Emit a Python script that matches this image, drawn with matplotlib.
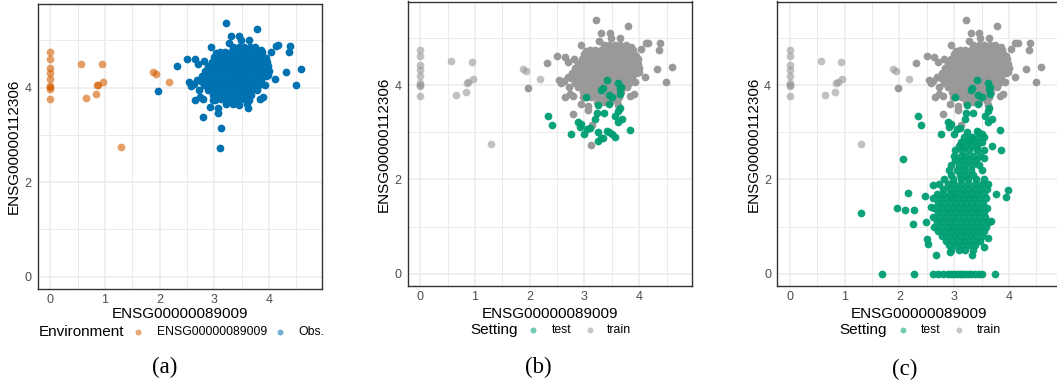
import numpy as np
import matplotlib
matplotlib.use("Agg")
import matplotlib.pyplot as plt
from matplotlib.lines import Line2D
from matplotlib.ticker import MultipleLocator

matplotlib.rcParams.update({'font.family': 'Liberation Sans'})

# ----- data (x = ENSG00000089009, y = ENSG00000112306) -----
# environment "ENSG00000089009" (intervened) points
env_x = [0, 0, 0, 0, 0, 0, 0, 0, 0, 0.56, 0.94, 0.65, 0.83, 0.85, 0.87, 0.96, 1.29, 1.88, 1.93, 2.18]
env_y = [4.75, 4.61, 4.42, 4.32, 4.19, 4.04, 4.01, 3.97, 3.76, 4.51, 4.49, 3.79, 3.86, 4.05, 4.06, 4.12, 2.75, 4.33, 4.29, 4.12]

# observational points: dense core, one list of x per y level
obs_core = [
    (4.85, [3.35, 3.45, 3.55, 3.65, 3.75]),
    (4.75, [3.1, 3.2, 3.3, 3.4, 3.5, 3.6, 3.7, 3.8, 3.88]),
    (4.65, [3.0, 3.1, 3.2, 3.3, 3.4, 3.5, 3.6, 3.7, 3.8, 3.9]),
    (4.55, [2.95, 3.05, 3.15, 3.25, 3.35, 3.45, 3.55, 3.65, 3.75, 3.85, 3.97]),
    (4.45, [2.88, 2.98, 3.08, 3.18, 3.28, 3.38, 3.48, 3.58, 3.68, 3.78, 3.88, 3.98]),
    (4.35, [2.83, 2.93, 3.03, 3.13, 3.23, 3.33, 3.43, 3.53, 3.63, 3.73, 3.83, 3.93, 4.0]),
    (4.25, [2.78, 2.88, 2.98, 3.08, 3.18, 3.28, 3.38, 3.48, 3.58, 3.68, 3.78, 3.88, 3.95]),
    (4.15, [2.76, 2.86, 2.96, 3.06, 3.16, 3.26, 3.36, 3.46, 3.56, 3.66, 3.76, 3.86]),
    (4.05, [2.82, 2.92, 3.02, 3.12, 3.22, 3.32, 3.42, 3.52, 3.62, 3.72, 3.82]),
    (3.95, [2.88, 2.98, 3.08, 3.18, 3.28, 3.38, 3.48, 3.58, 3.68, 3.78]),
    (3.85, [2.97, 3.07, 3.17, 3.27, 3.37, 3.47, 3.57, 3.67]),
    (3.75, [3.12, 3.25, 3.38, 3.5, 3.6]),
]
# observational points around the core
obs_x = [1.97, 2.31, 2.50, 2.64, 2.70, 2.81, 2.54, 2.58, 2.65, 2.73, 2.79, 2.93, 3.07, 3.07, 3.13, 3.11,
         3.21, 3.31, 3.46, 3.48, 3.64, 3.79, 3.27, 2.94, 3.03, 4.03, 4.12, 4.16, 4.38, 4.36, 4.32, 4.59,
         4.49, 4.11, 3.90, 3.84, 3.60, 3.61, 3.46, 3.35, 3.22, 3.02, 2.79, 2.98, 3.37, 3.63, 3.93, 3.99,
         2.69, 2.72, 2.62, 3.85, 3.95]
obs_y = [3.93, 4.46, 4.61, 4.60, 4.49, 4.56, 4.11, 4.04, 3.74, 3.81, 3.38, 3.60, 3.47, 3.56, 3.15, 2.73,
         5.37, 5.10, 5.10, 5.00, 5.00, 5.25, 4.94, 4.85, 4.73, 4.76, 4.89, 4.90, 4.89, 4.75, 4.34, 4.39,
         4.06, 4.18, 3.81, 3.76, 3.66, 3.58, 3.63, 3.65, 3.65, 3.74, 3.76, 3.74, 3.71, 3.74, 4.06, 4.27,
         4.17, 3.95, 4.08, 4.80, 4.62]

# test points of setting (b)
test_b_x = [3.42, 3.61, 3.64, 3.66, 3.65, 3.30, 3.33, 3.44, 3.50, 3.02, 3.44, 3.24, 3.64, 3.61, 3.35,
            3.22, 3.20, 3.56, 3.69, 3.61, 2.34, 2.40, 2.89, 2.94, 2.91, 3.05, 3.10, 2.76, 3.00, 3.24,
            3.41, 3.44, 3.50, 3.55, 3.25, 3.30, 3.33, 3.83]
test_b_y = [4.10, 4.05, 3.91, 3.95, 3.81, 3.90, 3.93, 3.78, 3.74, 3.74, 3.60, 3.58, 3.52, 3.44, 3.40,
            3.40, 3.29, 3.34, 3.29, 3.21, 3.34, 3.15, 3.22, 3.17, 3.10, 3.07, 3.08, 2.97, 2.96, 3.00,
            3.03, 3.01, 2.96, 2.89, 2.81, 2.87, 2.88, 3.04]

# extra test points of setting (c): dense column, one list of x per y level
test_c_rows = [
    (2.90, [3.18, 3.32, 3.45]),
    (2.80, [3.12, 3.25, 3.38, 3.5]),
    (2.70, [3.08, 3.2, 3.32, 3.42, 3.69]),
    (2.62, [3.02, 3.15, 3.28, 3.42, 3.54, 3.86]),
    (2.50, [3.0, 3.12, 3.22, 3.35, 3.48]),
    (2.40, [3.02, 3.15, 3.28, 3.4]),
    (2.30, [2.95, 3.08, 3.2, 3.32, 3.45]),
    (2.20, [2.9, 3.05, 3.18, 3.3, 3.5]),
    (2.10, [2.95, 3.1, 3.22, 3.35]),
    (2.00, [2.82, 2.98, 3.12, 3.25, 3.4, 3.55]),
    (1.90, [2.72, 2.88, 3.0, 3.12, 3.25, 3.38, 3.5, 3.62]),
    (1.80, [2.8, 2.92, 3.04, 3.15, 3.26, 3.36, 3.48, 3.6]),
    (1.70, [2.68, 2.8, 2.92, 3.02, 3.12, 3.22, 3.32, 3.42, 3.54]),
    (1.60, [2.62, 2.75, 2.86, 2.96, 3.06, 3.16, 3.26, 3.36, 3.46, 3.58]),
    (1.50, [2.7, 2.82, 2.92, 3.02, 3.12, 3.22, 3.32, 3.42, 3.52]),
    (1.40, [2.64, 2.76, 2.88, 2.98, 3.08, 3.18, 3.28, 3.38, 3.48, 3.6]),
    (1.30, [2.7, 2.82, 2.92, 3.02, 3.12, 3.22, 3.32, 3.42, 3.54]),
    (1.20, [2.62, 2.74, 2.86, 2.96, 3.06, 3.16, 3.26, 3.36, 3.46, 3.56]),
    (1.10, [2.68, 2.8, 2.92, 3.02, 3.12, 3.22, 3.32, 3.42, 3.52, 3.64]),
    (1.00, [2.64, 2.76, 2.88, 2.98, 3.08, 3.18, 3.28, 3.38, 3.48, 3.58]),
    (0.90, [2.7, 2.84, 2.94, 3.04, 3.14, 3.24, 3.34, 3.44, 3.54]),
    (0.80, [2.78, 2.9, 3.0, 3.1, 3.2, 3.3, 3.4, 3.5]),
    (0.70, [2.86, 2.98, 3.08, 3.18, 3.28, 3.38, 3.48]),
    (0.60, [2.9, 3.02, 3.14, 3.26, 3.38]),
    (0.50, [2.95, 3.08, 3.2, 3.34]),
    (0.00, [1.68, 2.27, 2.62, 2.7, 2.8, 2.88, 2.95, 3.0, 3.05, 3.1, 3.15, 3.2, 3.25, 3.3,
            3.38, 3.45, 3.5, 3.74]),
]
test_c_x = [2.07, 1.29, 2.16, 1.95, 2.11, 2.27, 2.24, 2.62, 2.47, 2.49, 2.50, 2.52, 2.66, 2.92,
            3.32, 3.54, 3.62, 3.76, 3.99, 3.94, 3.55, 2.58, 3.68]
test_c_y = [2.43, 1.29, 1.72, 1.39, 1.36, 1.36, 1.06, 1.89, 1.65, 1.10, 0.74, 0.64, 0.39, 0.46,
            0.39, 0.56, 0.76, 1.70, 1.77, 1.63, 2.45, 1.42, 1.12]


def flatten(rows, xs, ys):
    px = [x for y, row in rows for x in row] + list(xs)
    py = [y for y, row in rows for x in row] + list(ys)
    return np.array(px), np.array(py)


obs_all_x, obs_all_y = flatten(obs_core, obs_x, obs_y)
tc_x, tc_y = flatten(test_c_rows, test_c_x, test_c_y)
tc_x = np.concatenate([test_b_x, tc_x])
tc_y = np.concatenate([test_b_y, tc_y])

# ----- figure -----
W, H = 1057, 381
fig = plt.figure(figsize=(W / 100, H / 100), dpi=100)


def box(l, t, r, b):
    return [l / W, 1 - b / H, (r - l) / W, (b - t) / H]


def fx(x):
    return x / W


def fy(y):
    return 1 - y / H


c_orange, c_blue, c_green, c_grey = '#D55E00', '#0072B2', '#009E73', '#999999'
tick_c, fs_tick, fs_title, fs_leg = '#4D4D4D', 9.0, 11.0, 8.8
msize = 31

axes = [fig.add_axes(box(37.7, 4, 322, 289)),
        fig.add_axes(box(407.7, 1.5, 692.3, 286)),
        fig.add_axes(box(777.3, 1.5, 1062, 286))]

for ax in axes:
    ax.set_xlim(-0.23, 4.97)
    ax.set_ylim(-0.26, 5.77)
    ax.xaxis.set_major_locator(MultipleLocator(1))
    ax.xaxis.set_minor_locator(MultipleLocator(0.5))
    ax.yaxis.set_major_locator(MultipleLocator(2))
    ax.yaxis.set_minor_locator(MultipleLocator(1))
    ax.grid(which='major', color='#EBEBEB', lw=1.1)
    ax.grid(which='minor', color='#EBEBEB', lw=0.7)
    ax.set_axisbelow(True)
    ax.tick_params(which='both', length=0, labelsize=fs_tick, labelcolor=tick_c)
    ax.tick_params(axis='x', pad=3.5)
    ax.tick_params(axis='y', pad=4.5)
    for s in ax.spines.values():
        s.set_color('#333333')
        s.set_linewidth(1.0)

# (a)
axes[0].scatter(env_x, env_y, s=msize, color=c_orange, alpha=0.6, lw=0)
axes[0].scatter(obs_all_x, obs_all_y, s=msize, color=c_blue, alpha=1.0, lw=0)

# (b) and (c)
for ax, tx, ty in zip(axes[1:], [test_b_x, tc_x], [test_b_y, tc_y]):
    ax.scatter(env_x, env_y, s=msize, color=c_grey, alpha=0.6, lw=0)
    ax.scatter(obs_all_x, obs_all_y, s=msize, color=c_grey, alpha=1.0, lw=0)
    ax.scatter(tx, ty, s=msize, color=c_green, alpha=0.95, lw=0)

# axis titles
for xc, yc, xt in [(13.5, 146.5, 180), (383.3, 144, 550), (753.3, 144, 919)]:
    fig.text(fx(xc), fy(yc), 'ENSG00000112306', rotation=90, ha='center', va='center', fontsize=fs_title)
    fig.text(fx(xt), fy(314), 'ENSG00000089009', ha='center', va='center', fontsize=fs_title)


# legends
def legend_row(y, title, tx, items):
    fig.text(fx(tx), fy(y), title, ha='left', va='center', fontsize=fs_title)
    for dot_x, lab_x, lab, col in items:
        fig.add_artist(Line2D([fx(dot_x)], [fy(y)], transform=fig.transFigure, marker='o', ls='',
                              ms=4.3, mew=0, color=col, alpha=0.55))
        fig.text(fx(lab_x), fy(y), lab, ha='left', va='center', fontsize=fs_leg)


legend_row(332, 'Environment', 39, [(137.7, 157.3, 'ENSG00000089009', c_orange),
                                    (280, 298.3, 'Obs.', c_blue)])
legend_row(330, 'Setting', 470, [(533.3, 551.7, 'test', c_green), (590, 607.3, 'train', c_grey)])
legend_row(330, 'Setting', 839, [(902.7, 921, 'test', c_green), (959.3, 976.7, 'train', c_grey)])

# captions
for xc, yc, lab in [(165, 367, '(a)'), (538, 367, '(b)'), (905, 369, '(c)')]:
    fig.text(fx(xc), fy(yc), lab, ha='center', va='center', fontsize=16.5, family='Liberation Serif')

fig.savefig('out.png', dpi=100)
